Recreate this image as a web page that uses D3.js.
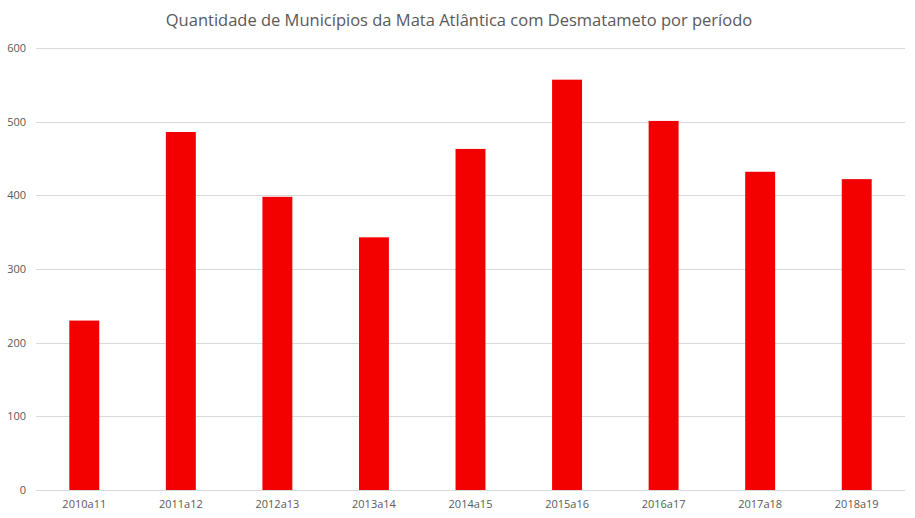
<!DOCTYPE html>
<html>
<head>
<meta charset="utf-8">
<script src="https://cdn.jsdelivr.net/npm/d3@7"></script>
<style>
  body { margin: 0; background: #fff; }
  text { font-family: "Open Sans", "Noto Sans", sans-serif; fill: #595959; }
</style>
</head>
<body>
<script>
'use strict';

const periods = ["2010a11", "2011a12", "2012a13", "2013a14", "2014a15", "2015a16", "2016a17", "2017a18", "2018a19"];
const municipios = [230, 486, 398, 343, 463, 557, 501, 432, 422];
const yTicks = [0, 100, 200, 300, 400, 500, 600];

(function() {
    const measurements = { width: 915, height: 518, left: 36, right: 905, top: 48, bottom: 490 };

    let svg = d3.select('body')
        .append('svg')
        .attr('width', measurements.width)
        .attr('height', measurements.height);

    let xScale = d3.scaleBand()
        .domain(periods)
        .range([measurements.left, measurements.right])
        .paddingInner(0.69)
        .paddingOuter(0.345);

    let yScale = d3.scaleLinear()
        .domain([0, 600])
        .range([measurements.bottom, measurements.top]);

    // gridlines
    svg.append('g')
        .selectAll('line')
        .data(yTicks)
        .enter()
        .append('line')
        .attr('x1', measurements.left)
        .attr('x2', measurements.right)
        .attr('y1', (d) => Math.round(yScale(d)) + 0.5)
        .attr('y2', (d) => Math.round(yScale(d)) + 0.5)
        .attr('stroke', '#d9d9d9')
        .attr('stroke-width', 1);

    // y labels
    let yAxis = d3.axisLeft(yScale).tickValues(yTicks).tickSize(0).tickPadding(10);
    svg.append('g')
        .attr('transform', 'translate(' + measurements.left + ',0)')
        .call(yAxis)
        .call((g) => g.select('.domain').remove())
        .selectAll('text')
        .style('font-size', '11px');

    // bars
    svg.selectAll('.bar')
        .data(municipios)
        .enter()
        .append('rect')
        .attr('class', 'bar')
        .attr('x', (d, i) => xScale(periods[i]))
        .attr('width', xScale.bandwidth())
        .attr('y', (d) => yScale(d))
        .attr('height', (d) => yScale(0) - yScale(d))
        .attr('fill', '#f20000');

    // x labels
    let xAxis = d3.axisBottom(xScale).tickSize(0).tickPadding(10);
    svg.append('g')
        .attr('transform', 'translate(0,' + measurements.bottom + ')')
        .call(xAxis)
        .call((g) => g.select('.domain').remove())
        .selectAll('text')
        .style('font-size', '11px');

    // title
    svg.append('text')
        .attr('x', 459)
        .attr('y', 26)
        .attr('text-anchor', 'middle')
        .style('font-size', '16.5px')
        .text('Quantidade de Municípios da Mata Atlântica com Desmatameto por período');
})();
</script>
</body>
</html>
